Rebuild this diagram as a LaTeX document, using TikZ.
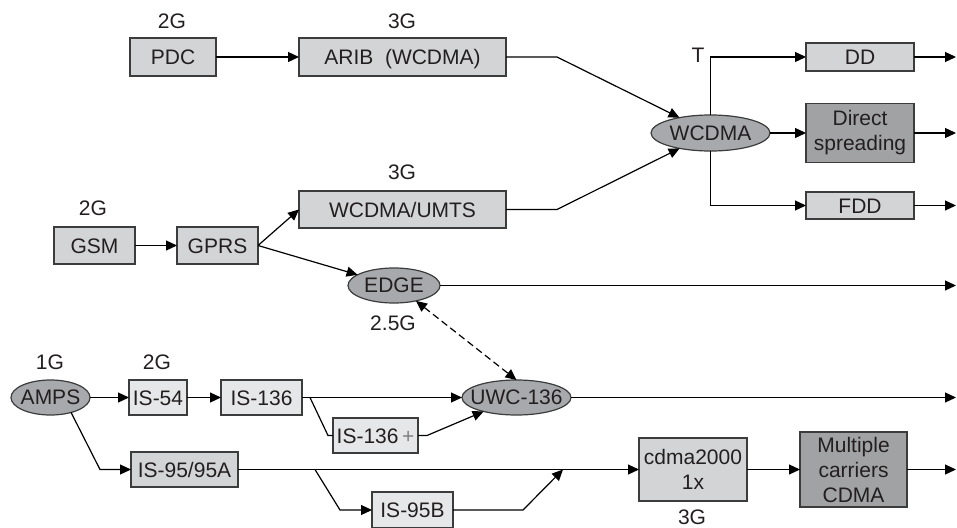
\documentclass[tikz,border=0pt]{standalone}
\usepackage{fontspec}
\setmainfont{Liberation Sans}
\usetikzlibrary{arrows.meta,shapes.geometric}
\definecolor{boxA}{HTML}{D3D4D6}
\definecolor{boxB}{HTML}{E6E7E8}
\definecolor{boxC}{HTML}{A1A2A4}
\definecolor{ellC}{HTML}{A7A9AC}
\definecolor{txt}{HTML}{231F20}
\definecolor{bord}{HTML}{3C3C3C}
\begin{document}
\begin{tikzpicture}[x=1pt,y=-1pt,
  font=\fontsize{21}{25}\selectfont, text=txt,
  every node/.style={inner sep=0pt, outer sep=0pt},
  sl/.style={text height=15pt, text depth=0pt},
  box/.style={draw=bord, line width=1.2pt, rectangle, align=center},
  lbox/.style={box, fill=boxA},
  wbox/.style={box, fill=boxB},
  dbox/.style={box, fill=boxC},
  ell/.style={draw=bord, line width=1.2pt, ellipse, fill=ellC},
  conn/.style={line width=1.2pt, draw=black},
  tip/.tip={Triangle[length=11pt,width=10pt]},
  arr/.style={conn, -tip},
]
\useasboundingbox (0,0) rectangle (957,527);
\clip (0,0) rectangle (957,527);

% boxes and ellipses
\node[lbox, minimum width=86pt, minimum height=38pt, sl] (pdc) at (173,57) {PDC};
\node[lbox, minimum width=207pt, minimum height=38pt, sl] (arib) at (402.5,57) {ARIB\ \ (WCDMA)};
\node[lbox, minimum width=207pt, minimum height=37pt, sl] (umts) at (402.5,209.5) {WCDMA/UMTS};
\node[lbox, minimum width=81pt, minimum height=37pt, sl] (gsm) at (94.5,245.5) {GSM};
\node[lbox, minimum width=81pt, minimum height=37pt, sl] (gprs) at (217.5,245.5) {GPRS};
\node[ell, minimum width=92pt, minimum height=35pt] (edge) at (394,285.5) {\makebox[0pt]{EDGE}};
\node[ell, minimum width=119pt, minimum height=36pt] (wc) at (710.5,133) {\makebox[0pt]{WCDMA}};
\node[lbox, minimum width=108pt, minimum height=28pt, sl] (dd) at (860,57) {DD};
\node[dbox, minimum width=108pt, minimum height=59pt] (ds) at (860,133) {Direct\\spreading};
\node[lbox, minimum width=108pt, minimum height=27pt, sl] (fdd) at (860,205.5) {FDD};
\node[ell, minimum width=79pt, minimum height=35pt] (amps) at (50.5,397.5) {\makebox[0pt]{AMPS}};
\node[wbox, minimum width=58pt, minimum height=35pt, sl] (is54) at (158,397.5) {IS-54};
\node[wbox, minimum width=81pt, minimum height=35pt, sl] (is136) at (261.5,397.5) {IS-136};
\node[wbox, minimum width=85pt, minimum height=35pt, sl] (is136p) at (375.5,435.5) {IS-136\,{\color{gray}+}};
\node[ell, minimum width=109pt, minimum height=35pt] (uwc) at (516.5,397.5) {\makebox[0pt]{UWC-136}};
\node[lbox, minimum width=107pt, minimum height=35pt, sl] (is95) at (184.5,469.5) {IS-95/95A};
\node[wbox, minimum width=81pt, minimum height=36pt, sl] (is95b) at (412.5,510) {IS-95B};
\node[lbox, minimum width=108pt, minimum height=63pt] (cdma) at (693,469.5) {cdma2000\\1x};
\node[dbox, minimum width=107pt, minimum height=75pt] (mc) at (853.5,469.5) {Multiple\\carriers\\CDMA};

% labels
\node[sl] (lpdc) at (172,21) {2G};
\node[sl] (larib) at (402,21) {3G};
\node[sl] (lt) at (698,55) {T};
\node[sl] (lumts) at (402,172) {3G};
\node[sl] (lgsm) at (93,208) {2G};
\node[sl] (ledge) at (393,323) {2.5G};
\node[sl] (lamps) at (50,362) {1G};
\node[sl] (lis54) at (157,362) {2G};
\node[sl] (lcdma) at (692,517) {3G};

% helper coordinates
\coordinate (aribk) at (557,57);
\coordinate (umtsk) at (557,209.5);
\coordinate (e1) at (956,57);
\coordinate (e2) at (956,133);
\coordinate (e3) at (956,205.5);
\coordinate (e4) at (956,285.5);
\coordinate (e5) at (956,397.5);
\coordinate (e6) at (956,469.5);
\coordinate (b1) at (310,397.5);
\coordinate (b1k) at (328,435.5);
\coordinate (b2) at (427,435.5);
\coordinate (a1) at (100,469.5);
\coordinate (b3) at (315,469.5);
\coordinate (b3k) at (340,510);
\coordinate (b4) at (523,510);
\coordinate (j) at (563,469.5);

% connectors
\draw[arr] (pdc) -- (arib);
\draw[arr] (arib.east) -- (aribk) -- (wc);
\draw[arr] (umts.east) -- (umtsk) -- (wc);
\draw[arr] (wc.north) |- (dd.west);
\draw[arr] (wc) -- (ds);
\draw[arr] (wc.south) |- (fdd.west);
\draw[arr] (dd) -- (e1);
\draw[arr] (ds) -- (e2);
\draw[arr] (fdd) -- (e3);
\draw[arr] (gsm) -- (gprs);
\draw[arr] (gprs.east) -- (umts.west);
\draw[arr] (gprs.east) -- (edge);
\draw[arr] (edge) -- (e4);
\draw[conn, dash pattern=on 7pt off 4pt, tip-tip] (edge.-35) -- (uwc.north);
\draw[arr] (amps) -- (is54);
\draw[arr] (is54) -- (is136);
\draw[arr] (is136) -- (uwc);
\draw[conn] (b1) -- (b1k) -- (is136p.west);
\draw[arr] (is136p.east) -- (b2) -- (uwc);
\draw[arr] (uwc) -- (e5);
\draw[arr] (amps.-36) -- (a1) -- (is95.west);
\draw[arr] (is95) -- (cdma);
\draw[arr] (b3) -- (b3k) -- (is95b.west);
\draw[arr] (is95b.east) -- (b4) -- (j);
\draw[arr] (cdma) -- (mc);
\draw[arr] (mc) -- (e6);
\end{tikzpicture}
\end{document}
